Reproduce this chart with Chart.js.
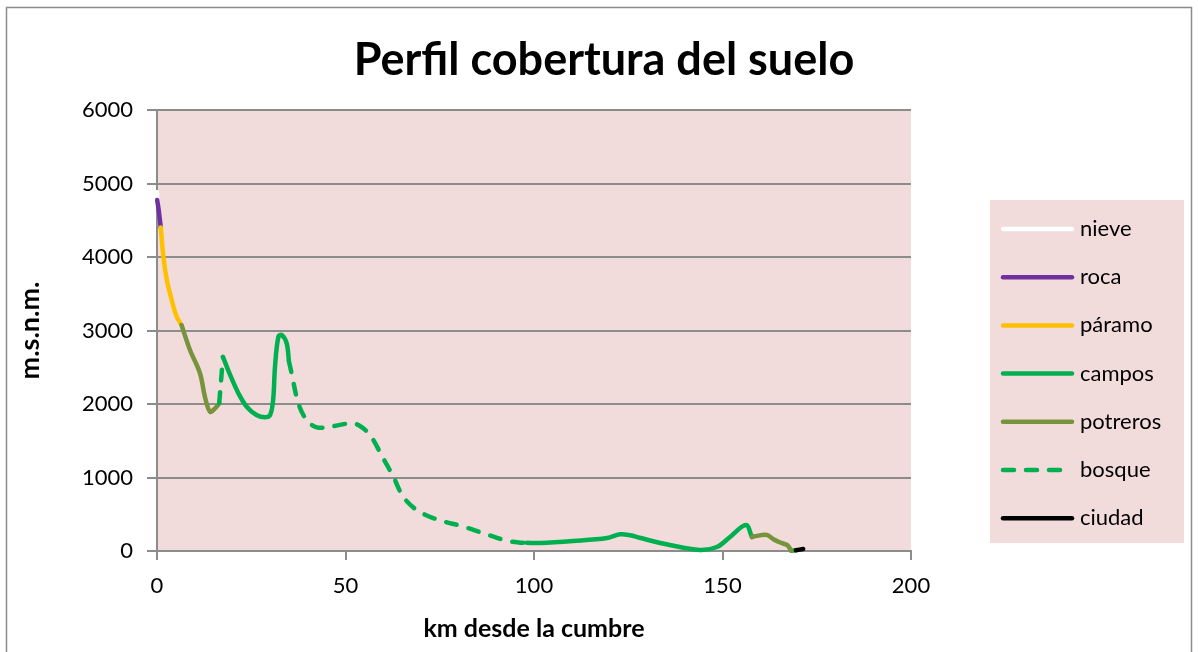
<!DOCTYPE html>
<html>
<head>
<meta charset="utf-8" />
<title>Perfil cobertura del suelo</title>
<script src="https://cdn.jsdelivr.net/npm/chart.js@4.4.0/dist/chart.umd.min.js"></script>
<style>
    body { margin: 0; background: #fff; }
    canvas { display: block; }
</style>
</head>
<body>
<canvas id="perfil" width="1198" height="652"></canvas>
<script>
    // km desde la cumbre / altitud (m.s.n.m.) por tipo de cobertura; null corta el tramo
    const nieveKm = [0, 0.05];
    const nieveAlt = [4880, 4776];

    const rocaKm = [0.05, 0.5, 1.0];
    const rocaAlt = [4776, 4620, 4400];

    const paramoKm = [1.0, 1.7, 2.6, 3.9, 5.2, 6.5];
    const paramoAlt = [4400, 4000, 3690, 3415, 3190, 3075];

    const camposKm = [17.5, 19.4, 21.6, 23.8, 26.4, 28.6, 30.0, 30.8, 31.3, 32.2, 33.1, 34.4, 35.0,
        null,
        98.1, 101.6, 110.3, 119.4, 122.8, 125.5, 128, 136, 144, 148.5, 152, 156.2, 157.8,
        null,
        168.2, 169.5];
    const camposAlt = [2640, 2395, 2145, 1963, 1850, 1819, 1850, 2054, 2507, 2916, 2939, 2826, 2580,
        null,
        112, 109, 136, 177, 228, 215, 180, 82, 14, 54, 190, 354, 190,
        null,
        5, 10];

    const potrerosKm = [6.5, 8.75, 11.4, 12.7, 14.06, 15.4, 16.5,
        null,
        157.8, 158.5, 161.8, 163.5, 165.3, 167.2, 168.2];
    const potrerosAlt = [3075, 2735, 2418, 2100, 1895, 1941, 2009,
        null,
        190, 200, 218, 160, 115, 80, 5];

    const bosqueKm = [16.5, 17.5,
        null,
        35.0, 35.7, 37.5, 39.7, 42.4, 45.9, 51.2, 53.4, 56.5, 60, 62.7, 65.3, 68.9, 74.2, 81.3, 86.6, 92.8, 96.3, 98.1];
    const bosqueAlt = [2009, 2640,
        null,
        2580, 2418, 2009, 1782, 1683, 1691, 1737, 1714, 1578, 1261, 1011, 739, 558, 431, 331, 241, 140, 113, 112];

    const ciudadKm = [169.5, 171.4];
    const ciudadAlt = [10, 28];

    const xTicks = [0, 50, 100, 150, 200];
    const yTicks = [0, 1000, 2000, 3000, 4000, 5000, 6000];

    const fuente = 'Lato, "DejaVu Sans", sans-serif';
    const rosa = '#F2DCDB';
    const gris = '#8c8c8c';
    const grosor = 4.5;

    function puntos(km, alt) {
        return km.map((x, i) => ({ x: x, y: alt[i] }));
    }

    function serie(label, km, alt, color, dash) {
        return {
            label: label,
            data: puntos(km, alt),
            borderColor: color,
            backgroundColor: color,
            borderWidth: grosor,
            borderDash: dash || [],
            borderCapStyle: 'round',
            borderJoinStyle: 'round',
            pointRadius: 0,
            tension: 0.35,
            clip: false,
            spanGaps: false
        };
    }

    const dash = [11, 12];
    const datasets = [
        serie('nieve', nieveKm, nieveAlt, '#FFFFFF'),
        serie('roca', rocaKm, rocaAlt, '#7030A0'),
        serie('páramo', paramoKm, paramoAlt, '#FFC000'),
        serie('campos', camposKm, camposAlt, '#00B050'),
        serie('potreros', potrerosKm, potrerosAlt, '#77933C'),
        serie('bosque', bosqueKm, bosqueAlt, '#00B050', dash),
        serie('ciudad', ciudadKm, ciudadAlt, '#000000')
    ];
    // la última serie queda encima
    datasets.forEach((d, i) => { d.order = datasets.length - i; });

    const fondo = {
        id: 'fondo',
        beforeDraw(chart) {
            const { ctx, chartArea: a } = chart;
            ctx.save();
            ctx.fillStyle = rosa;
            ctx.fillRect(a.left, a.top, a.right - a.left, a.bottom - a.top);
            ctx.restore();
        },
        afterDraw(chart) {
            const ctx = chart.ctx;
            ctx.save();
            // marco exterior
            ctx.strokeStyle = gris;
            ctx.lineWidth = 1.5;
            ctx.strokeRect(6.5, 7.5, 1185, 660);

            // leyenda
            const lx = 990, ly = 200, lw = 194, lh = 343;
            ctx.fillStyle = rosa;
            ctx.fillRect(lx, ly, lw, lh);
            ctx.font = '22px ' + fuente;
            ctx.textBaseline = 'middle';
            ctx.textAlign = 'left';
            datasets.forEach((d, i) => {
                const y = 229 + i * 48.2;
                ctx.strokeStyle = d.borderColor;
                ctx.lineWidth = grosor;
                ctx.lineCap = 'round';
                ctx.setLineDash(d.borderDash);
                ctx.beginPath();
                ctx.moveTo(1003, y);
                ctx.lineTo(d.borderDash.length ? 1066 : 1072, y);
                ctx.stroke();
                ctx.setLineDash([]);
                ctx.fillStyle = '#000';
                ctx.fillText(d.label, 1080, y);
            });
            ctx.restore();
        }
    };

    new Chart(document.getElementById('perfil'), {
        type: 'line',
        data: { datasets: datasets },
        plugins: [fondo],
        options: {
            responsive: false,
            animation: false,
            events: [],
            layout: { padding: { left: 10, right: 0, top: 0, bottom: 0 } },
            plugins: {
                legend: { display: false },
                tooltip: { enabled: false },
                title: {
                    display: true,
                    text: 'Perfil cobertura del suelo',
                    color: '#000',
                    font: { family: fuente, size: 45, weight: 'bold', lineHeight: 1.2 },
                    padding: { top: 33, bottom: 23 }
                }
            },
            scales: {
                x: {
                    type: 'linear',
                    min: 0,
                    max: 200,
                    afterBuildTicks: s => { s.ticks = xTicks.map(v => ({ value: v })); },
                    afterFit: s => { s.height = 101; },
                    grid: { drawOnChartArea: false, drawTicks: true, tickLength: 9, color: gris, lineWidth: 2 },
                    border: { display: true, color: gris, width: 2 },
                    ticks: { color: '#000', padding: 13, maxRotation: 0, font: { family: fuente, size: 22 } },
                    title: {
                        display: true,
                        text: 'km desde la cumbre',
                        color: '#000',
                        font: { family: fuente, size: 25, weight: 'bold', lineHeight: 1.2 },
                        padding: { top: 0, bottom: 8 }
                    }
                },
                y: {
                    min: 0,
                    max: 6000,
                    afterBuildTicks: s => { s.ticks = yTicks.map(v => ({ value: v })); },
                    afterFit: s => { s.width = 147; },
                    grid: { drawOnChartArea: true, drawTicks: true, tickLength: 10, color: gris, lineWidth: 2 },
                    border: { display: true, color: gris, width: 2 },
                    ticks: { color: '#000', padding: 14, callback: v => String(v), font: { family: fuente, size: 22 } },
                    title: {
                        display: true,
                        text: 'm.s.n.m.',
                        color: '#000',
                        font: { family: fuente, size: 27, weight: 'bold', lineHeight: 1.2 },
                        padding: { top: 4, bottom: 0 }
                    }
                },
                // franja vacía a la derecha donde va la leyenda
                hueco: {
                    type: 'linear',
                    position: 'right',
                    afterFit: s => { s.width = 287; },
                    grid: { display: false, drawTicks: false },
                    border: { display: false },
                    ticks: { display: false }
                }
            }
        }
    });
</script>
</body>
</html>
